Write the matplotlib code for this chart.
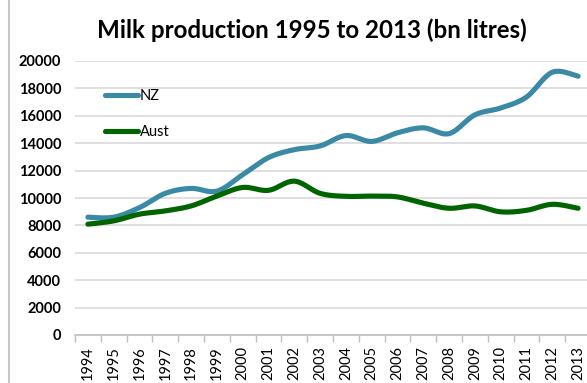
import numpy as np
import matplotlib
matplotlib.use("Agg")
import matplotlib.pyplot as plt
from matplotlib.lines import Line2D

years = [str(y) for y in range(1994, 2014)]
nz = [8600, 8600, 9300, 10340, 10700, 10500, 11700, 12950, 13530, 13800,
      14560, 14130, 14760, 15120, 14700, 16070, 16570, 17370, 19180, 18890]
aust = [8090, 8330, 8820, 9060, 9420, 10140, 10770, 10560, 11230, 10340,
        10120, 10140, 10080, 9620, 9250, 9420, 8990, 9100, 9540, 9250]
yticks = [0, 2000, 4000, 6000, 8000, 10000, 12000, 14000, 16000, 18000, 20000]

NZ_COLOR = "#3A8AA5"
AU_COLOR = "#006400"


def smooth(xs, ys, n=20):
    """Catmull-Rom spline through the points (like Excel's smoothed line)."""
    pts = np.column_stack([xs, ys]).astype(float)
    p = np.vstack([pts[0], pts, pts[-1]])
    out = []
    t = np.linspace(0, 1, n, endpoint=False)
    for i in range(1, len(p) - 2):
        p0, p1, p2, p3 = p[i - 1], p[i], p[i + 1], p[i + 2]
        t2, t3 = t * t, t * t * t
        seg = 0.5 * ((2 * p1)[None, :] + (-p0 + p2)[None, :] * t[:, None]
                     + (2 * p0 - 5 * p1 + 4 * p2 - p3)[None, :] * t2[:, None]
                     + (-p0 + 3 * p1 - 3 * p2 + p3)[None, :] * t3[:, None])
        out.append(seg)
    out.append(pts[-1][None, :])
    out = np.vstack(out)
    return out[:, 0], out[:, 1]


plt.rcParams['font.family'] = ['Lato', 'DejaVu Sans']

W, H = 587, 383
fig = plt.figure(figsize=(W / 100, H / 100), dpi=100)
left, right, top, bottom = 75, 591, 61, 335
ax = fig.add_axes([left / W, (H - bottom) / H, (right - left) / W, (bottom - top) / H])

x = np.arange(len(years))
sx, sy = smooth(x, nz)
ax.plot(sx, sy, color=NZ_COLOR, lw=3.7, solid_capstyle='round', label='NZ', zorder=3)
sx, sy = smooth(x, aust)
ax.plot(sx, sy, color=AU_COLOR, lw=3.7, solid_capstyle='round', label='Aust', zorder=3)

ax.set_xlim(-0.5, len(years) - 0.5)
ax.set_ylim(0, 20000)
ax.set_yticks(yticks)
ax.set_yticklabels([str(v) for v in yticks], fontweight='bold', fontsize=10.5)
ax.tick_params(axis='y', length=0, pad=10)
ax.grid(axis='y', color='#d9d9d9', lw=1.2)
ax.set_axisbelow(True)

ax.set_xticks(x)
ax.set_xticklabels(years, rotation=90, fontsize=10.5)
ax.set_xticks(np.arange(len(years) + 1) - 0.5, minor=True)
ax.tick_params(axis='x', which='major', length=0, pad=8)
ax.tick_params(axis='x', which='minor', length=5, color='#bfbfbf', width=1)

for s in ['top', 'right', 'left']:
    ax.spines[s].set_visible(False)
ax.spines['bottom'].set_color('#bfbfbf')
ax.spines['bottom'].set_linewidth(1.2)

leg = ax.legend(loc='upper left', bbox_to_anchor=(0.058, 0.897), frameon=False,
                fontsize=10.5, handlelength=2.3, handletextpad=0.1,
                labelspacing=1.5, borderpad=0, borderaxespad=0)

fig.text(312 / W, 1 - 30 / H, 'Milk production 1995 to 2013 (bn litres)',
         ha='center', va='center', fontsize=17.4, fontweight='bold')

fig.add_artist(Line2D([9 / W, 9 / W], [0, 1], color='#c8c8c8', lw=1.5,
                      transform=fig.transFigure))

fig.savefig('out.png', dpi=100)
